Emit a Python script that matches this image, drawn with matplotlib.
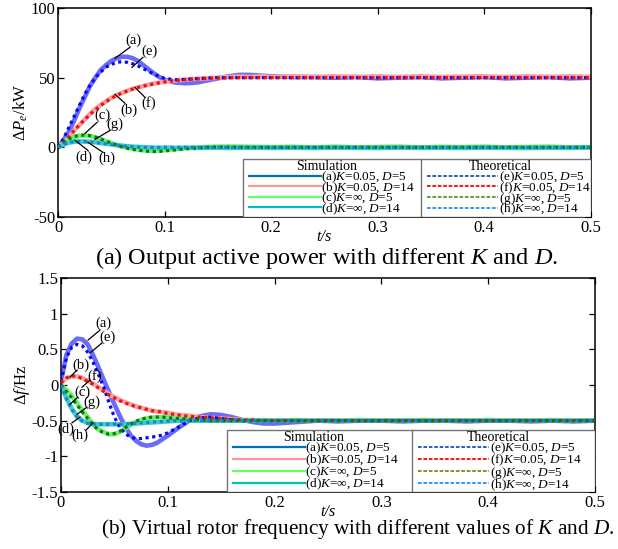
import matplotlib
matplotlib.use("Agg")
import matplotlib.pyplot as plt
from matplotlib.lines import Line2D
from matplotlib.patches import Rectangle

plt.rcParams['font.family'] = 'Liberation Serif'
plt.rcParams['mathtext.fontset'] = 'custom'
plt.rcParams['mathtext.rm'] = 'Liberation Serif'
plt.rcParams['mathtext.it'] = 'Liberation Serif:italic'
plt.rcParams['axes.unicode_minus'] = False

# time base (s)
t = [0, 0.005, 0.01, 0.015, 0.02, 0.025, 0.03, 0.035, 0.04, 0.045,
     0.05, 0.055, 0.06, 0.065, 0.07, 0.075, 0.08, 0.085, 0.09, 0.095,
     0.1, 0.11, 0.12, 0.13, 0.14, 0.15, 0.16, 0.17, 0.18, 0.19,
     0.2, 0.22, 0.24, 0.26, 0.28, 0.3, 0.32, 0.34, 0.36, 0.38,
     0.4, 0.42, 0.44, 0.46, 0.48, 0.5]

# output active power dPe (kW)
p_a = [0, 5, 11, 19, 28, 36, 44, 50, 55.5, 59, 62, 64, 65, 65, 64, 62, 59, 56, 53, 50.5,
       48.5, 46.5, 46, 46.5, 48, 49.5, 51, 52, 52, 51.5,
       51, 50.5, 50.5, 50, 50.5, 49.5, 50, 50.5, 49.5, 50,
       50.5, 49.5, 50, 50.5, 49.5, 50]
p_e = [0, 6, 14, 22, 30, 38, 44.5, 50, 54, 57.5, 59.5, 61, 61.5, 61, 60, 58.5, 56.5, 54.5, 52.5, 51,
       49.5, 48.5, 48.8, 49.3, 49.7, 50, 50, 50, 50, 50,
       50, 50, 50, 50, 50, 50, 50, 50, 50, 50,
       50, 50, 50, 50, 50, 50]
p_b = [0, 3, 7, 12, 16, 20, 24, 27.5, 30.5, 33, 35.5, 37.5, 39, 40.5, 42, 43, 44, 45, 45.8, 46.5,
       47, 48, 48.7, 49.2, 49.6, 50, 50.5, 50.8, 50.5, 51,
       50.5, 51, 50.5, 51, 50.5, 51, 50.5, 51, 50.5, 50.8,
       51, 50.5, 51, 50.5, 51, 50.5]
p_f = [0, 3.5, 7.5, 12, 16, 20, 23.5, 27, 30, 32.8, 35.2, 37.3, 39, 40.5, 41.8, 43, 44, 44.8, 45.6, 46.3,
       47, 47.9, 48.6, 49.1, 49.5, 49.7, 49.9, 50, 50, 50,
       50, 50, 50, 50, 50, 50, 50, 50, 50, 50,
       50, 50, 50, 50, 50, 50]
p_c = [0, 3, 5.5, 7.3, 8.3, 8.6, 8.2, 7.2, 5.8, 4.4, 3, 1.7, 0.6, -0.3, -1, -1.6, -2.1, -2.4, -2.5, -2.3,
       -2, -1.3, -0.6, 0, 0.3, 0.5, 0.6, 0.5, 0.4, 0.3,
       0.2, 0.4, 0, 0.5, 0, 0.3, 0.5, 0, 0.4, 0.2,
       0.5, 0, 0.3, 0.5, 0, 0.2]
p_g = [0, 3.3, 6, 7.8, 8.6, 8.8, 8.4, 7.4, 6, 4.5, 3, 1.6, 0.4, -0.6, -1.4, -2, -2.5, -2.8, -3, -2.9,
       -2.6, -1.8, -1, -0.4, 0, 0.2, 0.2, 0.1, 0, 0,
       0, 0, 0, 0, 0, 0, 0, 0, 0, 0,
       0, 0, 0, 0, 0, 0]
p_d = [0, 2, 3.3, 4, 4.2, 4.2, 4, 3.6, 3.1, 2.6, 2.1, 1.6, 1.2, 0.8, 0.5, 0.3, 0.1, 0, -0.2, -0.3,
       -0.2, -0.4, -0.2, -0.5, -0.3, -0.2, -0.5, -0.3, -0.4, -0.2,
       -0.5, -0.3, -0.5, -0.2, -0.4, -0.5, -0.2, -0.4, -0.3, -0.5,
       -0.2, -0.4, -0.5, -0.3, -0.4, -0.2]
p_h = [0, 2.2, 3.5, 4.1, 4.3, 4.2, 3.9, 3.5, 3, 2.5, 2, 1.5, 1.1, 0.7, 0.4, 0.2, 0, -0.1, -0.1, -0.1,
       0, 0, 0, 0, 0, 0, 0, 0, 0, 0,
       0, 0, 0, 0, 0, 0, 0, 0, 0, 0,
       0, 0, 0, 0, 0, 0]

# virtual rotor frequency df (Hz)
f_a = [0.05, 0.42, 0.58, 0.65, 0.64, 0.57, 0.42, 0.25, 0.07, -0.1, -0.27, -0.43, -0.58, -0.7, -0.78, -0.83, -0.85, -0.84, -0.81, -0.76,
       -0.71, -0.6, -0.5, -0.44, -0.41, -0.42, -0.45, -0.49, -0.52, -0.54,
       -0.54, -0.52, -0.5, -0.51, -0.5, -0.5, -0.51, -0.5, -0.5, -0.51,
       -0.5, -0.5, -0.51, -0.5, -0.51, -0.5]
f_e = [0.05, 0.38, 0.53, 0.57, 0.55, 0.46, 0.32, 0.15, -0.03, -0.25, -0.45, -0.59, -0.68, -0.73, -0.75, -0.75, -0.74, -0.73, -0.72, -0.7,
       -0.67, -0.59, -0.5, -0.46, -0.45, -0.47, -0.49, -0.5, -0.5, -0.5,
       -0.5, -0.5, -0.5, -0.5, -0.5, -0.5, -0.5, -0.5, -0.5, -0.5,
       -0.5, -0.5, -0.5, -0.5, -0.5, -0.5]
f_b = [0.03, 0.09, 0.12, 0.12, 0.1, 0.06, 0.02, -0.03, -0.08, -0.13, -0.17, -0.21, -0.24, -0.27, -0.3, -0.32, -0.34, -0.36, -0.37, -0.38,
       -0.39, -0.42, -0.43, -0.45, -0.46, -0.47, -0.48, -0.49, -0.49, -0.5,
       -0.5, -0.5, -0.5, -0.5, -0.5, -0.5, -0.5, -0.5, -0.5, -0.5,
       -0.5, -0.5, -0.5, -0.5, -0.5, -0.5]
f_f = [0.03, 0.1, 0.13, 0.12, 0.09, 0.05, 0.01, -0.04, -0.09, -0.14, -0.18, -0.22, -0.25, -0.28, -0.3, -0.32, -0.34, -0.36, -0.37, -0.38,
       -0.4, -0.42, -0.44, -0.45, -0.46, -0.47, -0.48, -0.49, -0.49, -0.5,
       -0.5, -0.5, -0.5, -0.5, -0.5, -0.5, -0.5, -0.5, -0.5, -0.5,
       -0.5, -0.5, -0.5, -0.5, -0.5, -0.5]
f_c = [0, -0.07, -0.15, -0.25, -0.36, -0.45, -0.55, -0.62, -0.66, -0.69, -0.69, -0.66, -0.61, -0.56, -0.52, -0.49, -0.47, -0.46, -0.45, -0.45,
       -0.45, -0.46, -0.48, -0.49, -0.5, -0.5, -0.49, -0.5, -0.5, -0.49,
       -0.5, -0.49, -0.5, -0.5, -0.49, -0.5, -0.5, -0.49, -0.5, -0.5,
       -0.49, -0.5, -0.5, -0.49, -0.5, -0.5]
f_g = [0, -0.09, -0.18, -0.28, -0.38, -0.47, -0.56, -0.63, -0.67, -0.69, -0.68, -0.65, -0.6, -0.55, -0.51, -0.48, -0.46, -0.45, -0.45, -0.45,
       -0.46, -0.47, -0.48, -0.49, -0.5, -0.5, -0.5, -0.5, -0.5, -0.5,
       -0.5, -0.5, -0.5, -0.5, -0.5, -0.5, -0.5, -0.5, -0.5, -0.5,
       -0.5, -0.5, -0.5, -0.5, -0.5, -0.5]
f_d = [0, -0.18, -0.33, -0.44, -0.5, -0.53, -0.545, -0.55, -0.55, -0.55, -0.55, -0.55, -0.55, -0.545, -0.54, -0.535, -0.53, -0.525, -0.52, -0.515,
       -0.51, -0.5, -0.5, -0.5, -0.5, -0.5, -0.5, -0.5, -0.5, -0.5,
       -0.5, -0.5, -0.5, -0.5, -0.5, -0.5, -0.5, -0.5, -0.5, -0.5,
       -0.5, -0.5, -0.5, -0.5, -0.5, -0.5]
f_h = [0, -0.19, -0.34, -0.45, -0.51, -0.54, -0.55, -0.55, -0.55, -0.55, -0.55, -0.55, -0.545, -0.54, -0.535, -0.53, -0.525, -0.52, -0.515, -0.51,
       -0.505, -0.5, -0.5, -0.5, -0.5, -0.5, -0.5, -0.5, -0.5, -0.5,
       -0.5, -0.5, -0.5, -0.5, -0.5, -0.5, -0.5, -0.5, -0.5, -0.5,
       -0.5, -0.5, -0.5, -0.5, -0.5, -0.5]

sim_labels = ['(a)$K$=0.05, $D$=5', '(b)$K$=0.05, $D$=14', '(c)$K$=∞, $D$=5', '(d)$K$=∞, $D$=14']
theo_labels = ['(e)$K$=0.05, $D$=5', '(f)$K$=0.05, $D$=14', '(g)$K$=∞, $D$=5', '(h)$K$=∞, $D$=14']

# curve colours / legend colours
sim_plot_c = ['#6b6bf7', '#f7a3a3', '#6cf06c', '#38cccc']
theo_plot_c = ['#0a0aee', '#ee1111', '#0a7a0a', '#1a88c0']
sim_leg_c = ['#0072bd', '#ff9999', '#66ff66', '#00bfbf']
theo_leg_c = ['#1f4fa8', '#ff0000', '#6b8e23', '#1e90ff']

# annotation: label, text xy, leader start, leader end
ann_p = [('(a)', (0.0704, 76.8), (0.0675, 71.8), (0.0535, 63.9)),
         ('(e)', (0.0854, 68.9), (0.0797, 64.6), (0.0694, 57.4)),
         ('(b)', (0.0666, 26.6), (0.0629, 31.6), (0.0535, 38.0)),
         ('(f)', (0.0854, 31.6), (0.0816, 35.9), (0.0722, 43.1)),
         ('(c)', (0.0413, 23.0), (0.0366, 17.9), (0.0253, 10.0)),
         ('(g)', (0.0535, 16.5), (0.0488, 12.2), (0.0347, 5.7)),
         ('(d)', (0.0244, -7.2), (0.0281, -2.2), (0.0160, 5.0)),
         ('(h)', (0.0460, -7.9), (0.0422, -3.6), (0.0281, 3.6))]
ann_f = [('(a)', (0.0393, 0.87), (0.0365, 0.77), (0.0253, 0.63)),
         ('(e)', (0.0431, 0.67), (0.0384, 0.59), (0.0272, 0.45)),
         ('(b)', (0.0187, 0.28), (0.0150, 0.21), (0.0084, 0.11)),
         ('(f)', (0.0318, 0.13), (0.0272, 0.07), (0.0197, -0.03)),
         ('(c)', (0.0197, -0.10), (0.0159, -0.17), (0.0084, -0.27)),
         ('(g)', (0.0290, -0.24), (0.0243, -0.31), (0.0150, -0.41)),
         ('(d)', (0.0050, -0.62), (0.0103, -0.53), (0.0178, -0.45)),
         ('(h)', (0.0175, -0.71), (0.0235, -0.63), (0.0300, -0.53))]


def draw_panel(ax, sims, theos, anns, ylim, yticks, ylabel, box_x0, box_div, box_h, rowgap):
    for y, c in zip(sims, sim_plot_c):
        ax.plot(t, y, color=c, lw=3.3, solid_capstyle='round', zorder=2)
    for y, c in zip(theos, theo_plot_c):
        ax.plot(t, y, color=c, lw=2.3, linestyle=(0, (1, 1.1)), zorder=3)
    for lab, txy, l0, l1 in anns:
        ax.text(txy[0], txy[1], lab, fontsize=10.5, ha='center', va='center', zorder=4)
        ax.plot([l0[0], l1[0]], [l0[1], l1[1]], color='k', lw=0.9, zorder=4)

    ax.set_xlim(0, 0.5)
    ax.set_ylim(*ylim)
    ax.set_xticks([0, 0.1, 0.2, 0.3, 0.4, 0.5])
    ax.set_xticklabels(['0', '0.1', '0.2', '0.3', '0.4', '0.5'])
    ax.set_yticks(yticks)
    ax.set_yticklabels([('%g' % v) for v in yticks])
    ax.tick_params(direction='in', top=True, right=True, length=4, width=0.9,
                   labelsize=12, pad=2)
    for s in ax.spines.values():
        s.set_linewidth(1.1)
    ax.set_xlabel('t/s', fontsize=11.5, style='italic', labelpad=-5)
    ax.set_ylabel(ylabel, fontsize=12, labelpad=0)

    # legend box with two columns
    ax.add_patch(Rectangle((box_x0, 0), 1 - box_x0, box_h, transform=ax.transAxes,
                           facecolor='white', edgecolor='0.45', lw=1.0, zorder=5))
    ax.plot([box_div, box_div], [0, box_h], transform=ax.transAxes,
            color='0.45', lw=1.0, zorder=6)
    ax.text((box_x0 + box_div) / 2 - 0.01, box_h - 0.005, 'Simulation', fontsize=10,
            ha='center', va='top', transform=ax.transAxes, zorder=7)
    ax.text((box_div + 1) / 2 - 0.01, box_h - 0.005, 'Theoretical', fontsize=10,
            ha='center', va='top', transform=ax.transAxes, zorder=7)
    h_sim = [Line2D([], [], color=c, lw=1.6) for c in sim_leg_c]
    h_theo = [Line2D([], [], color=c, lw=1.3, linestyle=(0, (2, 1))) for c in theo_leg_c]
    common = dict(frameon=False, fontsize=9.5, handlelength=5.4,
                  handletextpad=0.05, labelspacing=rowgap, borderpad=0,
                  borderaxespad=0, loc='upper left')
    leg1 = ax.legend(h_sim, sim_labels,
                     bbox_to_anchor=(box_x0 + 0.012, box_h - 0.05), **common)
    leg1.set_zorder(7)
    ax.add_artist(leg1)
    leg2 = ax.legend(h_theo, theo_labels,
                     bbox_to_anchor=(box_div + 0.012, box_h - 0.05), **common)
    leg2.set_zorder(7)


fig = plt.figure(figsize=(6.18, 5.49), dpi=100)
ax1 = fig.add_axes([0.0939, 0.6047, 0.862, 0.3807])
ax2 = fig.add_axes([0.0987, 0.1038, 0.864, 0.3898])

draw_panel(ax1, [p_a, p_b, p_c, p_d], [p_e, p_f, p_g, p_h], ann_p,
           (-50, 100), [-50, 0, 50, 100], r'$\Delta P_e$/kW', 0.347, 0.681, 0.277, -0.37)
draw_panel(ax2, [f_a, f_b, f_c, f_d], [f_e, f_f, f_g, f_h], ann_f,
           (-1.5, 1.5), [-1.5, -1, -0.5, 0, 0.5, 1, 1.5], r'$\Delta f$/Hz', 0.311, 0.657, 0.29, -0.26)

fig.text(0.529, 0.530, '(a) Output active power with different $K$ and $D$.',
         fontsize=17.5, ha='center', va='center')
fig.text(0.579, 0.036, '(b) Virtual rotor frequency with different values of $K$ and $D$.',
         fontsize=15.3, ha='center', va='center')

fig.savefig('out.png', dpi=100)
